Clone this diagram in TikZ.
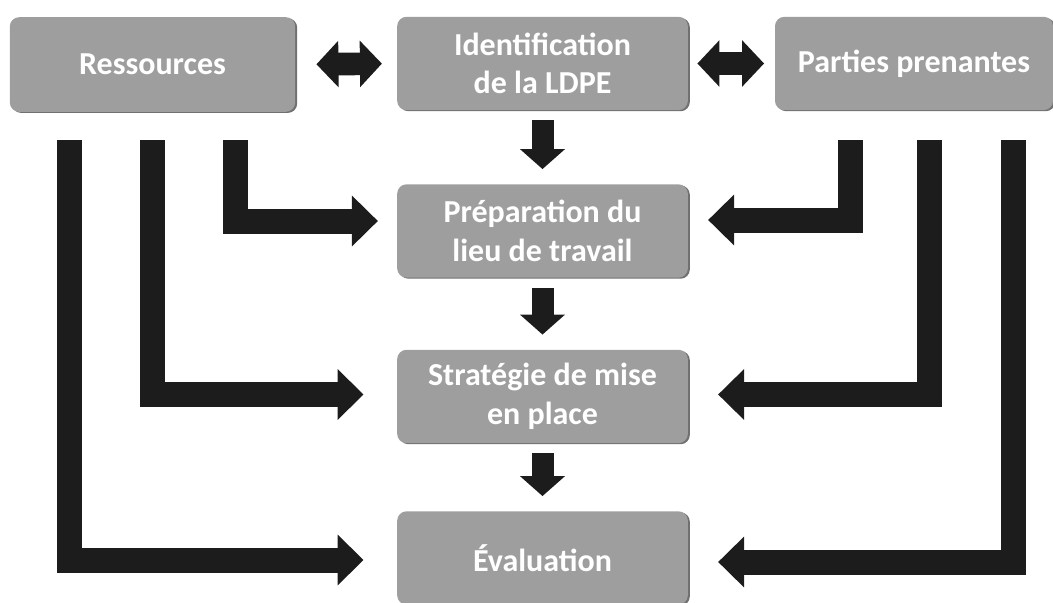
\documentclass[tikz,border=0pt]{standalone}
\usepackage{amsmath}
\usepackage{amssymb}
\usepackage{fontspec}
\setmainfont{Carlito}
\usetikzlibrary{arrows.meta,calc,shadows}

\definecolor{boxgray}{RGB}{158,158,158}
\definecolor{arrowdark}{RGB}{28,28,28}

\tikzset{
  stage/.style={fill=boxgray, rounded corners=7pt, text=white,
    font=\fontsize{24}{29}\selectfont\bfseries, align=center,
    minimum width=218pt, minimum height=70pt, inner sep=2pt,
    drop shadow={shadow xshift=1.5pt, shadow yshift=-0.8pt, opacity=0.8, fill=black!70}},
  feed/.style={draw=arrowdark, line width=18.75pt, line join=miter,
    -{Triangle[length=19.5pt,width=37pt]}},
  down/.style={draw=arrowdark, line width=16.5pt,
    -{Triangle[length=15pt,width=33pt]}, shorten <=7.5pt, shorten >=11.25pt},
  both/.style={draw=arrowdark, line width=17pt,
    {Triangle[length=16.5pt,width=34pt]}-{Triangle[length=16.5pt,width=34pt]}},
}

\begin{document}
\begin{tikzpicture}[x=0.75pt,y=0.75pt,yscale=-1,xscale=1]
\useasboundingbox (0,0) rectangle (1053,603);

% Text Node
\draw (152.5,64.5) node [stage, minimum width=214pt, minimum height=71pt] (res) {Ressources};
% Text Node
\draw (542.5,63.5) node [stage] (ident) {Identification\\de la LDPE};
% Text Node
\draw (914,63.5) node [stage, minimum width=208.5pt] (part) {Parties prenantes};
% Text Node
\draw (542.5,231) node [stage] (prep) {Préparation du\\lieu de travail};
% Text Node
\draw (542.5,396.5) node [stage] (strat) {Stratégie de mise\\en place};
% Text Node
\draw (542.5,558) node [stage] (eval) {Évaluation};

%Double Arrows
\draw [both, shorten <=15.75pt, shorten >=11.25pt] (res.east) -- (ident.west) ;
\draw [both, shorten <=7pt, shorten >=8pt] (ident.east) -- (part.west) ;

%Down Arrows
\draw [down] (ident.south) -- (prep.north) ;
\draw [down] (prep.south) -- (strat.north) ;
\draw [down] (strat.south) -- (eval.north) ;

%Elbow Arrows, left side
\coordinate (left1) at (69,140) ;
\coordinate (left2) at (152,140) ;
\coordinate (left3) at (235,140) ;
\draw [feed, shorten >=14.25pt] (left3) |- ($(prep.west)+(0,-10)$) ;
\draw [feed, shorten >=25pt] (left2) |- ($(strat.west)+(0,-2)$) ;
\draw [feed, shorten >=25pt] (left1) |- ($(eval.west)+(0,2)$) ;

%Elbow Arrows, right side
\coordinate (right1) at (850,140) ;
\coordinate (right2) at (929,140) ;
\coordinate (right3) at (1013,140) ;
\draw [feed, shorten >=15pt] (right1) |- ($(prep.east)+(0,-11)$) ;
\draw [feed, shorten >=22.5pt] (right2) |- ($(strat.east)+(0,-2)$) ;
\draw [feed, shorten >=22.5pt] (right3) |- ($(eval.east)+(0,4)$) ;

\end{tikzpicture}
\end{document}
